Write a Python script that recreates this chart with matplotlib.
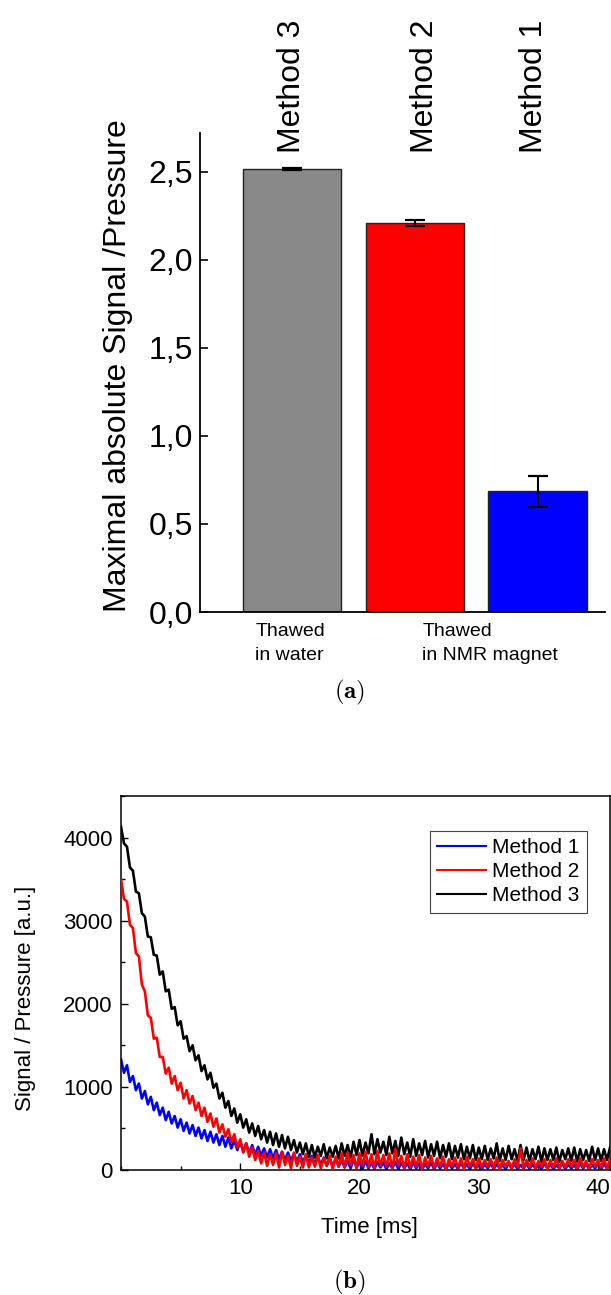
import numpy as np
import matplotlib
matplotlib.use("Agg")
import matplotlib.pyplot as plt
from matplotlib.ticker import FuncFormatter, MultipleLocator

plt.rcParams['font.family'] = ['Liberation Sans', 'DejaVu Sans']
plt.rcParams['mathtext.fontset'] = 'cm'

# --- panel (a): maximal signal per method ---
methods = ["Method 3", "Method 2", "Method 1"]
bar_values = [2.514, 2.208, 0.687]
bar_errors = [0.005, 0.018, 0.088]
bar_colors = ["#898989", "#ff0000", "#0000ff"]
group_labels = ["Thawed\nin water", "Thawed\nin NMR magnet"]

# --- panel (b): signal / pressure vs time, sampled every 0.25 ms ---
dt = 0.25
signal_m1 = [
    1330, 1170, 1260, 1060, 1130, 960, 1040, 860,
    950, 790, 880, 720, 810, 660, 750, 600,
    700, 560, 650, 510, 610, 470, 570, 440,
    540, 410, 510, 380, 480, 350, 460, 330,
    430, 300, 410, 280, 390, 260, 360, 240,
    340, 220, 320, 200, 300, 180, 280, 170,
    260, 150, 250, 140, 240, 130, 220, 120,
    210, 110, 200, 100, 190, 90, 180, 80,
    170, 70, 160, 60, 150, 50, 140, 40,
    130, 40, 120, 30, 110, 20, 130, 30,
    100, 10, 110, 20, 90, 10, 100, 30,
    90, 10, 80, 20, 100, 10, 90, 20,
    80, 10, 90, 20, 80, 10, 70, 20,
    90, 10, 80, 20, 70, 10, 80, 20,
    70, 10, 90, 20, 70, 10, 80, 20,
    60, 10, 70, 20, 80, 10, 70, 20,
    60, 10, 80, 20, 70, 10, 60, 20,
    80, 10, 70, 20, 60, 10, 80, 20,
    70, 10, 60, 20, 80, 10, 70, 20,
    60, 10, 80, 20, 70, 10, 60, 20,
    80, 10, 70, 20, 60,
]
signal_m2 = [
    3500, 3260, 3230, 2950, 2910, 2610, 2570, 2230,
    2150, 1860, 1830, 1580, 1590, 1360, 1360, 1160,
    1230, 1040, 1130, 960, 1050, 860, 960, 800,
    890, 720, 810, 650, 750, 580, 680, 520,
    620, 450, 550, 400, 490, 340, 430, 270,
    370, 210, 320, 160, 270, 120, 230, 80,
    210, 50, 190, 60, 200, 30, 220, 60,
    170, 20, 210, 50, 160, 30, 190, 30,
    150, 40, 180, 20, 140, 50, 170, 10,
    160, 40, 200, 30, 210, 60, 180, 20,
    200, 50, 220, 40, 190, 20, 230, 50,
    180, 40, 200, 10, 250, 50, 170, 20,
    190, 30, 160, 40, 180, 10, 150, 40,
    170, 20, 140, 40, 160, 10, 130, 40,
    150, 20, 140, 10, 160, 40, 130, 20,
    140, 30, 120, 40, 130, 20, 150, 10,
    120, 40, 110, 20, 130, 30, 260, 20,
    120, 30, 140, 20, 110, 40, 130, 10,
    120, 30, 140, 20, 110, 30, 130, 40,
    120, 20, 140, 30, 110, 20, 130, 40,
    120, 30, 140, 20, 130,
]
signal_m3 = [
    4130, 3930, 3890, 3640, 3600, 3350, 3330, 3090,
    3050, 2810, 2800, 2590, 2580, 2350, 2390, 2150,
    2170, 1940, 1960, 1740, 1790, 1580, 1610, 1430,
    1500, 1320, 1380, 1190, 1260, 1090, 1170, 990,
    1040, 860, 930, 750, 830, 650, 740, 570,
    670, 510, 610, 450, 560, 410, 530, 370,
    480, 330, 460, 300, 440, 280, 420, 260,
    400, 240, 360, 210, 330, 190, 320, 160,
    300, 150, 280, 170, 310, 140, 270, 160,
    290, 140, 320, 170, 300, 150, 340, 180,
    360, 170, 330, 200, 430, 190, 370, 210,
    340, 180, 400, 200, 350, 170, 390, 190,
    330, 160, 370, 170, 320, 180, 350, 150,
    310, 170, 340, 140, 300, 160, 320, 130,
    290, 150, 310, 130, 280, 140, 300, 120,
    270, 130, 290, 120, 260, 140, 320, 110,
    260, 120, 290, 130, 250, 110, 300, 120,
    270, 110, 250, 130, 280, 100, 260, 120,
    250, 120, 270, 100, 240, 130, 260, 110,
    270, 100, 250, 120, 240, 110, 280, 120,
    260, 110, 250, 120, 270,
]

W, H = 611, 1295
fig = plt.figure(figsize=(W / 100, H / 100), dpi=100)


def px_box(left, top, right, bottom):
    return [left / W, 1 - bottom / H, (right - left) / W, (bottom - top) / H]


# ---------------- (a) ----------------
ax1 = fig.add_axes(px_box(200, 133, 605, 612))
xpos = np.arange(1, len(methods) + 1)
ax1.bar(xpos, bar_values, width=0.8, color=bar_colors, edgecolor="#222222",
        linewidth=1.0, yerr=bar_errors, capsize=7,
        error_kw=dict(elinewidth=1.5, capthick=1.6, ecolor="black"))
ax1.set_xlim(0.25, 3.55)
ax1.set_ylim(0, 2.72)
ax1.spines["top"].set_visible(False)
ax1.spines["right"].set_visible(False)
for s in ("left", "bottom"):
    ax1.spines[s].set_linewidth(1.3)
ax1.set_xticks([])
ax1.yaxis.set_major_locator(MultipleLocator(0.5))
ax1.yaxis.set_major_formatter(FuncFormatter(lambda v, p: f"{v:.1f}".replace(".", ",")))
ax1.tick_params(axis="y", direction="in", length=6, width=1.2, labelsize=23, pad=5)

fig.text(118 / W, 1 - 366 / H, "Maximal absolute Signal /Pressure",
         rotation=90, ha="center", va="center", fontsize=23)

label_x = [292, 425, 534]
for name, lx in zip(methods, label_x):
    fig.text(lx / W, 1 - 153 / H, name, rotation=90, ha="center", va="bottom",
             fontsize=23)

tr = ax1.get_xaxis_transform()
ax1.text(0.70, -0.022, group_labels[0], transform=tr, ha="left", va="top",
         fontsize=14, linespacing=1.55)
ax1.text(2.06, -0.022, group_labels[1], transform=tr, ha="left", va="top",
         fontsize=14, linespacing=1.55)

fig.text(349.5 / W, 1 - 692 / H, r"$\mathbf{(a)}$", ha="center", va="center",
         fontsize=18)

# ---------------- (b) ----------------
ax2 = fig.add_axes(px_box(121, 796, 610, 1170))
series = [(signal_m3, "black", "Method 3", 1),
          (signal_m1, "#0000ff", "Method 1", 2),
          (signal_m2, "#ff0000", "Method 2", 3)]
lines = {}
for vals, col, lab, z in series:
    t = np.arange(len(vals)) * dt
    lines[lab], = ax2.plot(t, vals, color=col, lw=1.9, label=lab, zorder=z)

ax2.set_xlim(0, 41)
ax2.set_ylim(0, 4500)
ax2.set_xticks([10, 20, 30, 40])
ax2.xaxis.set_minor_locator(MultipleLocator(5))
ax2.yaxis.set_major_locator(MultipleLocator(1000))
ax2.yaxis.set_minor_locator(MultipleLocator(500))
ax2.tick_params(which="both", direction="in", width=1.0, labelsize=16, pad=6)
ax2.tick_params(which="major", length=5)
ax2.tick_params(which="minor", length=3)
for s in ax2.spines.values():
    s.set_linewidth(1.1)

ax2.set_xlabel("Time [ms]", fontsize=16)
ax2.xaxis.set_label_coords(0.509, -0.125)
fig.text(26 / W, 1 - 998 / H, "Signal / Pressure [a.u.]", rotation=90,
         ha="center", va="center", fontsize=16)

order = ["Method 1", "Method 2", "Method 3"]
leg = ax2.legend([lines[k] for k in order], order, loc="upper right",
                 bbox_to_anchor=(587 / W, 1 - 830.7 / H),
                 bbox_transform=fig.transFigure, borderaxespad=0,
                 fontsize=15, handlelength=2.35, labelspacing=0.25,
                 handletextpad=0.3, borderpad=0.35, fancybox=False,
                 framealpha=1, edgecolor="#444444")
leg.get_frame().set_linewidth(0.8)
for h in leg.get_lines():
    h.set_linewidth(1.5)

fig.text(349.5 / W, 1 - 1282 / H, r"$\mathbf{(b)}$", ha="center", va="center",
         fontsize=18)

fig.savefig("out.png", dpi=100)
